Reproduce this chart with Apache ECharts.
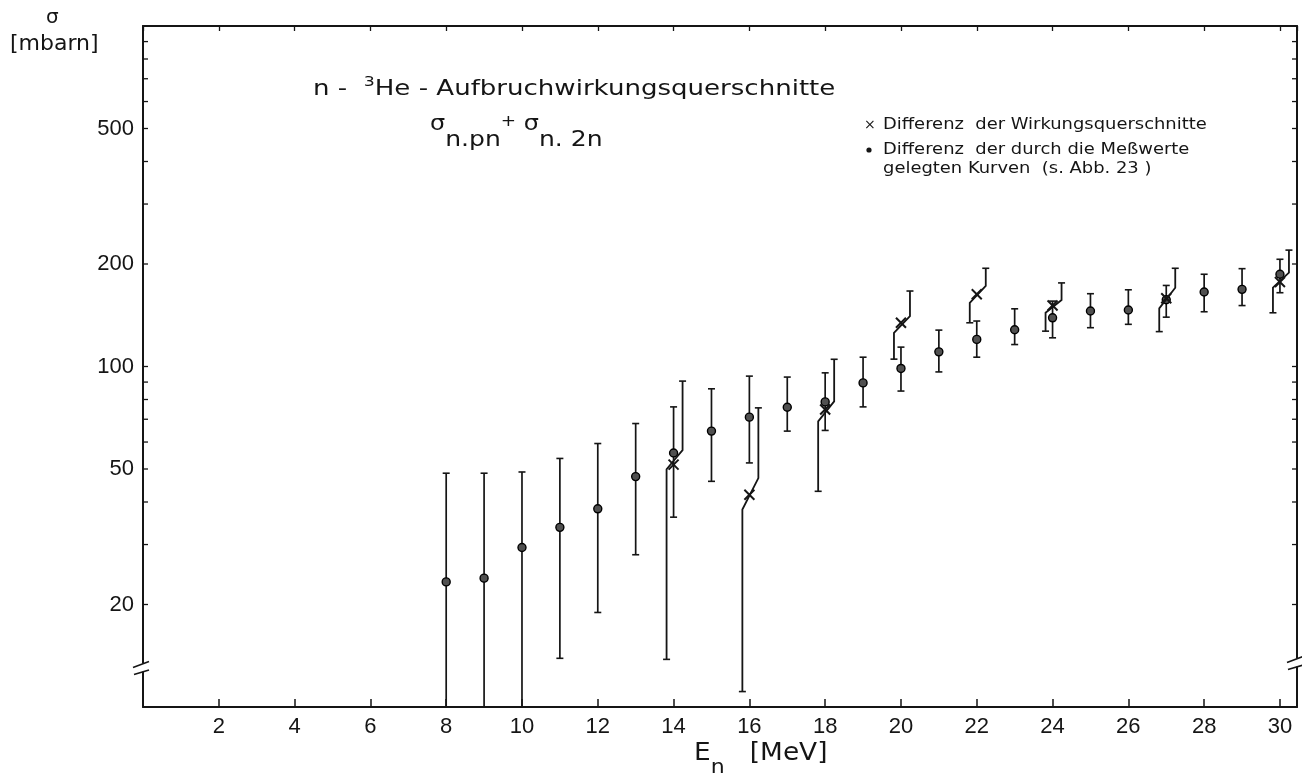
<!DOCTYPE html>
<html>
<head>
<meta charset="utf-8">
<script src="https://cdn.jsdelivr.net/npm/echarts@6/dist/echarts.min.js"></script>
<style>
html,body{margin:0;padding:0;background:#fff;}
#c{width:1302px;height:780px;}
</style>
</head>
<body>
<div id="c"></div>
<script>
// ---- tick labels ----
const xTickLabels = [2, 4, 6, 8, 10, 12, 14, 16, 18, 20, 22, 24, 26, 28, 30];
const yMajorTicks = [500, 200, 100, 50, 20];
const yMinorTicks = [900, 800, 700, 600, 400, 300, 90, 80, 70, 60, 40, 30];
const xRange = [0, 30.45];
const yRange = [10, 1000];
const yBreakValue = 13.1;

// ---- dots: Differenz der durch die Meßwerte gelegten Kurven ----
const dotEnergy = [8, 9, 10, 11, 12, 13, 14, 15, 16, 17, 18, 19, 20, 21, 22, 23, 24, 25, 26, 27, 28, 29, 30];
const dotValue  = [23.3, 23.9, 29.4, 33.7, 38.2, 47.5, 55.7, 64.6, 71.0, 75.9, 78.7, 89.5, 98.7, 110.4, 120.1, 128.2, 139, 145.5, 146.5, 157, 165.5, 168.5, 186.6];
const dotLow    = [10, 10, 10, 13.9, 18.95, 28.0, 36.1, 46.0, 52.1, 64.6, 64.9, 76.1, 84.7, 96.4, 106.5, 116, 121.4, 130, 133, 139.6, 144.8, 151, 164.7];
const dotHigh   = [48.6, 48.6, 49, 53.7, 59.4, 68, 76.1, 86, 93.7, 93.1, 95.8, 106.5, 114, 127.9, 136, 147.7, 155.6, 163.6, 168, 173, 186.6, 193.8, 206.5];

// ---- crosses: Differenz der Wirkungsquerschnitte ----
const crossEnergy = [14, 16, 18, 20, 22, 24, 27, 30];
const crossValue  = [51.5, 42.0, 74.8, 134.4, 163, 151, 158.6, 177];
const crossLow    = [13.8, 11.1, 43, 105.1, 134.4, 127, 126.6, 143.8];
const crossKneeLow  = [49.9, 38.0, 69, 125.6, 153.8, 143.8, 148.2, 170.4];
const crossKneeHigh = [56.8, 47.0, 79, 140.6, 172.4, 156.7, 170.4, 188.6];
const crossHigh   = [90.6, 75.6, 105, 166.6, 194.3, 176, 194.3, 219.7];

const INK = '#151515';
const NUMFONT = 'Liberation Sans';
const TXTFONT = 'DejaVu Sans';

const chart = echarts.init(document.getElementById('c'), null, {renderer: 'canvas'});

const yTickData = yMajorTicks.map(v => [xRange[0], v, 1]).concat(yMinorTicks.map(v => [xRange[0], v, 0]));
const dotBarData = dotEnergy.map((e, i) => [e, dotLow[i], dotHigh[i]]);
const crossData = crossEnergy.map((e, i) => [e, crossValue[i], crossLow[i], crossKneeLow[i], crossKneeHigh[i], crossHigh[i]]);
const dotData = dotEnergy.map((e, i) => [e, dotValue[i]]);

function capLine(x, y, hw) {
  return {type: 'line', shape: {x1: x - hw, y1: y, x2: x + hw, y2: y}, style: {stroke: INK, lineWidth: 1.6}};
}

const option = {
  animation: false,
  backgroundColor: '#fff',
  grid: {left: 143, right: 5, top: 26, bottom: 73, containLabel: false},
  xAxis: [{
    type: 'value', min: xRange[0], max: xRange[1], interval: 2,
    axisLine: {show: true, onZero: false, lineStyle: {color: INK, width: 2}},
    axisTick: {show: true, inside: true, length: 8, lineStyle: {color: INK, width: 1.5}},
    axisLabel: {
      show: true, margin: 9, color: INK, fontSize: 22, fontFamily: NUMFONT,
      formatter: v => (xTickLabels.indexOf(v) >= 0 ? String(v) : ''),
      showMinLabel: false, showMaxLabel: false
    },
    splitLine: {show: false}
  }, {
    type: 'value', position: 'top', min: xRange[0], max: xRange[1], interval: 2,
    axisLine: {show: true, onZero: false, lineStyle: {color: INK, width: 2}},
    axisTick: {show: true, inside: true, length: 5, lineStyle: {color: INK, width: 1.3}},
    axisLabel: {show: false},
    splitLine: {show: false}
  }],
  yAxis: [{
    type: 'log', logBase: 10, min: yRange[0], max: yRange[1],
    axisLine: {show: true, onZero: false, lineStyle: {color: INK, width: 2}},
    axisTick: {show: false}, axisLabel: {show: false}, splitLine: {show: false}, minorTick: {show: false}
  }, {
    type: 'log', logBase: 10, min: yRange[0], max: yRange[1], position: 'right',
    axisLine: {show: true, onZero: false, lineStyle: {color: INK, width: 2}},
    axisTick: {show: false}, axisLabel: {show: false}, splitLine: {show: false}
  }],
  series: [{
    name: 'yTicks',
    type: 'custom',
    coordinateSystem: 'cartesian2d',
    xAxisIndex: 0, yAxisIndex: 0,
    encode: {x: 0, y: 1},
    silent: true,
    clip: false,
    data: yTickData,
    renderItem: function (params, api) {
      const v = api.value(1);
      const major = api.value(2);
      const p = api.coord([xRange[0], v]);
      const cs = params.coordSys;
      const L = cs.x, R = cs.x + cs.width;
      const ch = [
        {type: 'line', shape: {x1: L, y1: p[1], x2: L + 5, y2: p[1]}, style: {stroke: INK, lineWidth: 1.3}},
        {type: 'line', shape: {x1: R - 5, y1: p[1], x2: R, y2: p[1]}, style: {stroke: INK, lineWidth: 1.3}}
      ];
      if (major) {
        ch.push({type: 'text', style: {text: String(v), x: L - 9, y: p[1], align: 'right', verticalAlign: 'middle',
          fontSize: 22, fontFamily: NUMFONT, fill: INK}});
      }
      return {type: 'group', children: ch};
    }
  }, {
    name: 'Fehler (Kurven)',
    type: 'custom',
    coordinateSystem: 'cartesian2d',
    encode: {x: 0, y: [1, 2]},
    silent: true,
    data: dotBarData,
    renderItem: function (params, api) {
      const e = api.value(0), lo = api.value(1), hi = api.value(2);
      const pl = api.coord([e, lo]);
      const ph = api.coord([e, hi]);
      const ch = [
        {type: 'line', shape: {x1: pl[0], y1: pl[1], x2: ph[0], y2: ph[1]}, style: {stroke: INK, lineWidth: 1.7}},
        capLine(ph[0], ph[1], 3.5)
      ];
      if (lo > yRange[0]) ch.push(capLine(pl[0], pl[1], 3.5));
      return {type: 'group', children: ch};
    },
    z: 2
  }, {
    name: 'Differenz der Wirkungsquerschnitte',
    type: 'custom',
    coordinateSystem: 'cartesian2d',
    encode: {x: 0, y: [1, 2, 3, 4, 5]},
    silent: true,
    data: crossData,
    renderItem: function (params, api) {
      const e = api.value(0);
      const c = api.coord([e, api.value(1)]);
      const yLo = api.coord([e, api.value(2)])[1];
      const yKL = api.coord([e, api.value(3)])[1];
      const yKH = api.coord([e, api.value(4)])[1];
      const yHi = api.coord([e, api.value(5)])[1];
      const xl = c[0] - 7, xr = c[0] + 9;
      const s = 5;
      return {type: 'group', children: [
        {type: 'polyline', shape: {points: [[xl, yLo], [xl, yKL], [xr, yKH], [xr, yHi]]},
          style: {stroke: INK, lineWidth: 1.8, fill: null}},
        capLine(xl, yLo, 3.5),
        capLine(xr, yHi, 3.5),
        {type: 'line', shape: {x1: c[0] - s, y1: c[1] - s, x2: c[0] + s, y2: c[1] + s}, style: {stroke: INK, lineWidth: 2}},
        {type: 'line', shape: {x1: c[0] - s, y1: c[1] + s, x2: c[0] + s, y2: c[1] - s}, style: {stroke: INK, lineWidth: 2}}
      ]};
    },
    z: 4
  }, {
    name: 'Differenz der durch die Meßwerte gelegten Kurven',
    type: 'scatter',
    symbol: 'circle',
    symbolSize: 8,
    data: dotData,
    itemStyle: {color: '#505050', borderColor: '#000', borderWidth: 1.4, opacity: 1},
    silent: true,
    z: 3
  }],
  graphic: [
    {type: 'text', left: 46, top: 8, style: {text: 'σ', fontSize: 20, fontFamily: TXTFONT, fill: INK}},
    {type: 'text', left: 10, top: 33, style: {text: '[mbarn]', fontSize: 22, fontFamily: TXTFONT, fill: INK}},
    {type: 'text', x: 313, y: 90, scaleX: 1.24, style: {
      text: '{a|n -  }{s|3}{a|He - Aufbruchwirkungsquerschnitte}',
      verticalAlign: 'middle', fill: INK, fontFamily: TXTFONT,
      rich: {
        a: {fontSize: 21, lineHeight: 30, fontFamily: TXTFONT, fill: INK},
        s: {fontSize: 14, lineHeight: 14, verticalAlign: 'top', fontFamily: TXTFONT, fill: INK}
      }
    }},
    {type: 'text', x: 430, y: 140, scaleX: 1.14, style: {
      text: '{g|σ}{b|n.pn}{p|+}{g| σ}{b|n. 2n}',
      verticalAlign: 'middle', fill: INK, fontFamily: TXTFONT,
      rich: {
        g: {fontSize: 21, lineHeight: 22, verticalAlign: 'top', fontFamily: TXTFONT, fill: INK},
        p: {fontSize: 16, lineHeight: 16, verticalAlign: 'top', fontFamily: TXTFONT, fill: INK},
        b: {fontSize: 22, lineHeight: 52, fontFamily: TXTFONT, fill: INK}
      }
    }},
    {type: 'text', x: 864, y: 125, style: {text: '×', fontSize: 14, fontFamily: TXTFONT, fill: INK, verticalAlign: 'middle'}},
    {type: 'text', x: 883, y: 125, scaleX: 1.12, style: {text: 'Differenz  der Wirkungsquerschnitte', fontSize: 16, fontFamily: TXTFONT, fill: INK, verticalAlign: 'middle'}},
    {type: 'circle', shape: {cx: 869, cy: 150, r: 2.6}, style: {fill: INK}},
    {type: 'text', x: 883, y: 150, scaleX: 1.12, style: {text: 'Differenz  der durch die Meßwerte', fontSize: 16, fontFamily: TXTFONT, fill: INK, verticalAlign: 'middle'}},
    {type: 'text', x: 883, y: 169, scaleX: 1.12, style: {text: 'gelegten Kurven  (s. Abb. 23 )', fontSize: 16, fontFamily: TXTFONT, fill: INK, verticalAlign: 'middle'}},
    {type: 'text', x: 694, y: 760, scaleX: 1.1, style: {
      text: '{e|E}{n|n}{m|   [MeV]}',
      verticalAlign: 'middle', fill: INK, fontFamily: TXTFONT,
      rich: {
        e: {fontSize: 24, lineHeight: 24, verticalAlign: 'top', fontFamily: TXTFONT, fill: INK},
        n: {fontSize: 20, lineHeight: 36, verticalAlign: 'bottom', fontFamily: TXTFONT, fill: INK},
        m: {fontSize: 24, lineHeight: 24, verticalAlign: 'top', fontFamily: TXTFONT, fill: INK}
      }
    }}
  ]
};

chart.setOption(option);

// axis-break marks on both y axes
const pL = chart.convertToPixel({gridIndex: 0}, [xRange[0], yBreakValue]);
const pR = chart.convertToPixel({gridIndex: 0}, [xRange[1], yBreakValue]);
function breakMarks(x, y, idp) {
  return [
    {type: 'rect', id: idp + 'w', z: 100, shape: {x: x - 3, y: y - 3.5, width: 6, height: 8}, style: {fill: '#fff'}},
    {type: 'line', id: idp + 'a', z: 101, shape: {x1: x - 10, y1: y + 0.5, x2: x + 6, y2: y - 5.5}, style: {stroke: INK, lineWidth: 1.6}},
    {type: 'line', id: idp + 'b', z: 101, shape: {x1: x - 9, y1: y + 7.5, x2: x + 6, y2: y + 3}, style: {stroke: INK, lineWidth: 1.6}}
  ];
}
chart.setOption({graphic: option.graphic.concat(breakMarks(pL[0], pL[1], 'bl'), breakMarks(pR[0], pR[1] - 5, 'br'))});
</script>
</body>
</html>
